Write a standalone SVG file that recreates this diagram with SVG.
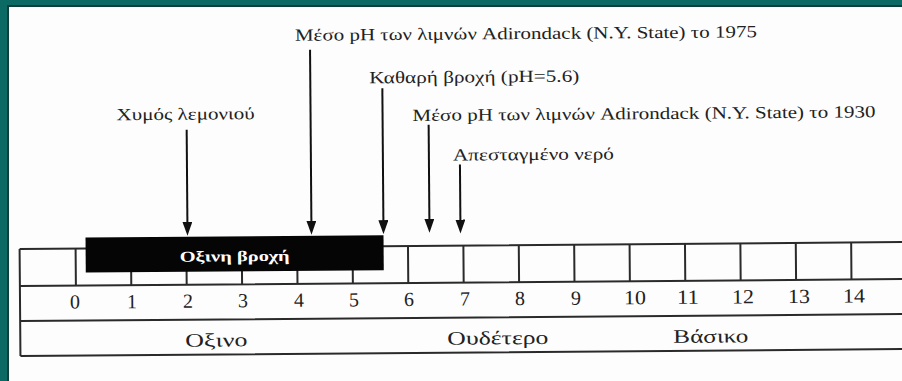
<svg xmlns="http://www.w3.org/2000/svg" width="902" height="381" viewBox="0 0 902 381">
<defs>
<marker id="ah" viewBox="0 0 14 10" markerUnits="userSpaceOnUse" markerWidth="14" markerHeight="10" refX="6" refY="5" orient="auto">
<path d="M0,0 L14,5 L0,10 z" fill="#111"/>
</marker>
</defs>
<style>
text{font-family:'Liberation Serif','Times New Roman',Tinos,'DejaVu Serif','Noto Serif',serif;}
.lbl{font-size:17px;fill:#222;}
.num{font-size:20px;fill:#222;text-anchor:middle;}
.zone{font-size:19px;fill:#222;}
.grid{stroke:#2a2a2a;stroke-width:2;fill:none;}
.arr{stroke:#111;stroke-width:2;fill:none;marker-end:url(#ah);}
.boxtxt{font-size:15px;font-weight:bold;fill:#fff;}
</style>
<rect x="0" y="0" width="902" height="381" fill="#fdfdfd"/>
<g id="frame">
<rect x="0" y="0" width="902" height="6" fill="#0c6a65"/>
<rect x="0" y="0" width="8" height="381" fill="#0c6a65"/>
<rect x="8" y="5" width="894" height="2" fill="#0a3f3c"/>
<rect x="7" y="5" width="2" height="376" fill="#0a3f3c"/>
</g>
<g transform="rotate(-0.45 20 300)" font-family="Liberation Serif, serif">
<g id="scale">
<path class="grid" d="M20,249 H910 M20,286 H910 M20,321 H910 M20,356 H910 M20,249 V356"/>
<path class="grid" d="M76,249V286 M131.4,249V286 M186.8,249V286 M242.2,249V286 M297.6,249V286 M353,249V286 M408.4,249V286 M463.8,249V286 M519.2,249V286 M574.6,249V286 M630,249V286 M685.4,249V286 M740.8,249V286 M796.2,249V286 M851.6,249V286"/>
<g id="numbers">
<text class="num" x="75" y="309">0</text>
<text class="num" x="132" y="309">1</text>
<text class="num" x="188" y="309">2</text>
<text class="num" x="243" y="309">3</text>
<text class="num" x="299" y="309">4</text>
<text class="num" x="354" y="309">5</text>
<text class="num" x="409" y="309">6</text>
<text class="num" x="465" y="309">7</text>
<text class="num" x="520" y="309">8</text>
<text class="num" x="576" y="309">9</text>
<text class="num" x="635" y="309" textLength="22" lengthAdjust="spacingAndGlyphs">10</text>
<text class="num" x="688" y="309" textLength="22" lengthAdjust="spacingAndGlyphs">11</text>
<text class="num" x="743" y="309" textLength="22" lengthAdjust="spacingAndGlyphs">12</text>
<text class="num" x="799" y="309" textLength="22" lengthAdjust="spacingAndGlyphs">13</text>
<text class="num" x="854" y="309" textLength="22" lengthAdjust="spacingAndGlyphs">14</text>
</g>
</g>
<g id="zone-acid"><text class="zone" x="185" y="348" textLength="62" lengthAdjust="spacingAndGlyphs">Οξινο</text></g>
<g id="zone-neutral"><text class="zone" x="447" y="348" textLength="101" lengthAdjust="spacingAndGlyphs">Ουδέτερο</text></g>
<g id="zone-basic"><text class="zone" x="673" y="348" textLength="75" lengthAdjust="spacingAndGlyphs">Βάσικο</text></g>
<g id="acid-rain">
<rect x="86" y="238" width="298" height="35" fill="#050505"/>
<text class="boxtxt" x="180" y="263" textLength="110" lengthAdjust="spacingAndGlyphs">Οξινη βροχή</text>
</g>
<g id="label-lemon"><text class="lbl" x="118" y="121" textLength="138" lengthAdjust="spacingAndGlyphs">Χυμός λεμονιού</text></g>
<g id="label-1975"><text class="lbl" x="297" y="43" textLength="462" lengthAdjust="spacingAndGlyphs">Μέσο pH των λιμνών Adirondack (N.Y. State) το 1975</text></g>
<g id="label-clean"><text class="lbl" x="371" y="86" textLength="210" lengthAdjust="spacingAndGlyphs">Καθαρή βροχή (pH=5.6)</text></g>
<g id="label-1930"><text class="lbl" x="414" y="124" textLength="463" lengthAdjust="spacingAndGlyphs">Μέσο pH των λιμνών Adirondack (N.Y. State) το 1930</text></g>
<g id="label-distilled"><text class="lbl" x="454" y="164" textLength="161" lengthAdjust="spacingAndGlyphs">Απεσταγμένο νερό</text></g>
<g id="connectors">
<line class="arr" x1="188" y1="131" x2="188" y2="229"/>
<line class="arr" x1="312" y1="52" x2="312" y2="229"/>
<line class="arr" x1="384" y1="91" x2="384" y2="229"/>
<line class="arr" x1="430" y1="128" x2="430" y2="228"/>
<line class="arr" x1="461" y1="168" x2="461" y2="229"/>
</g>
</g>
</svg>
